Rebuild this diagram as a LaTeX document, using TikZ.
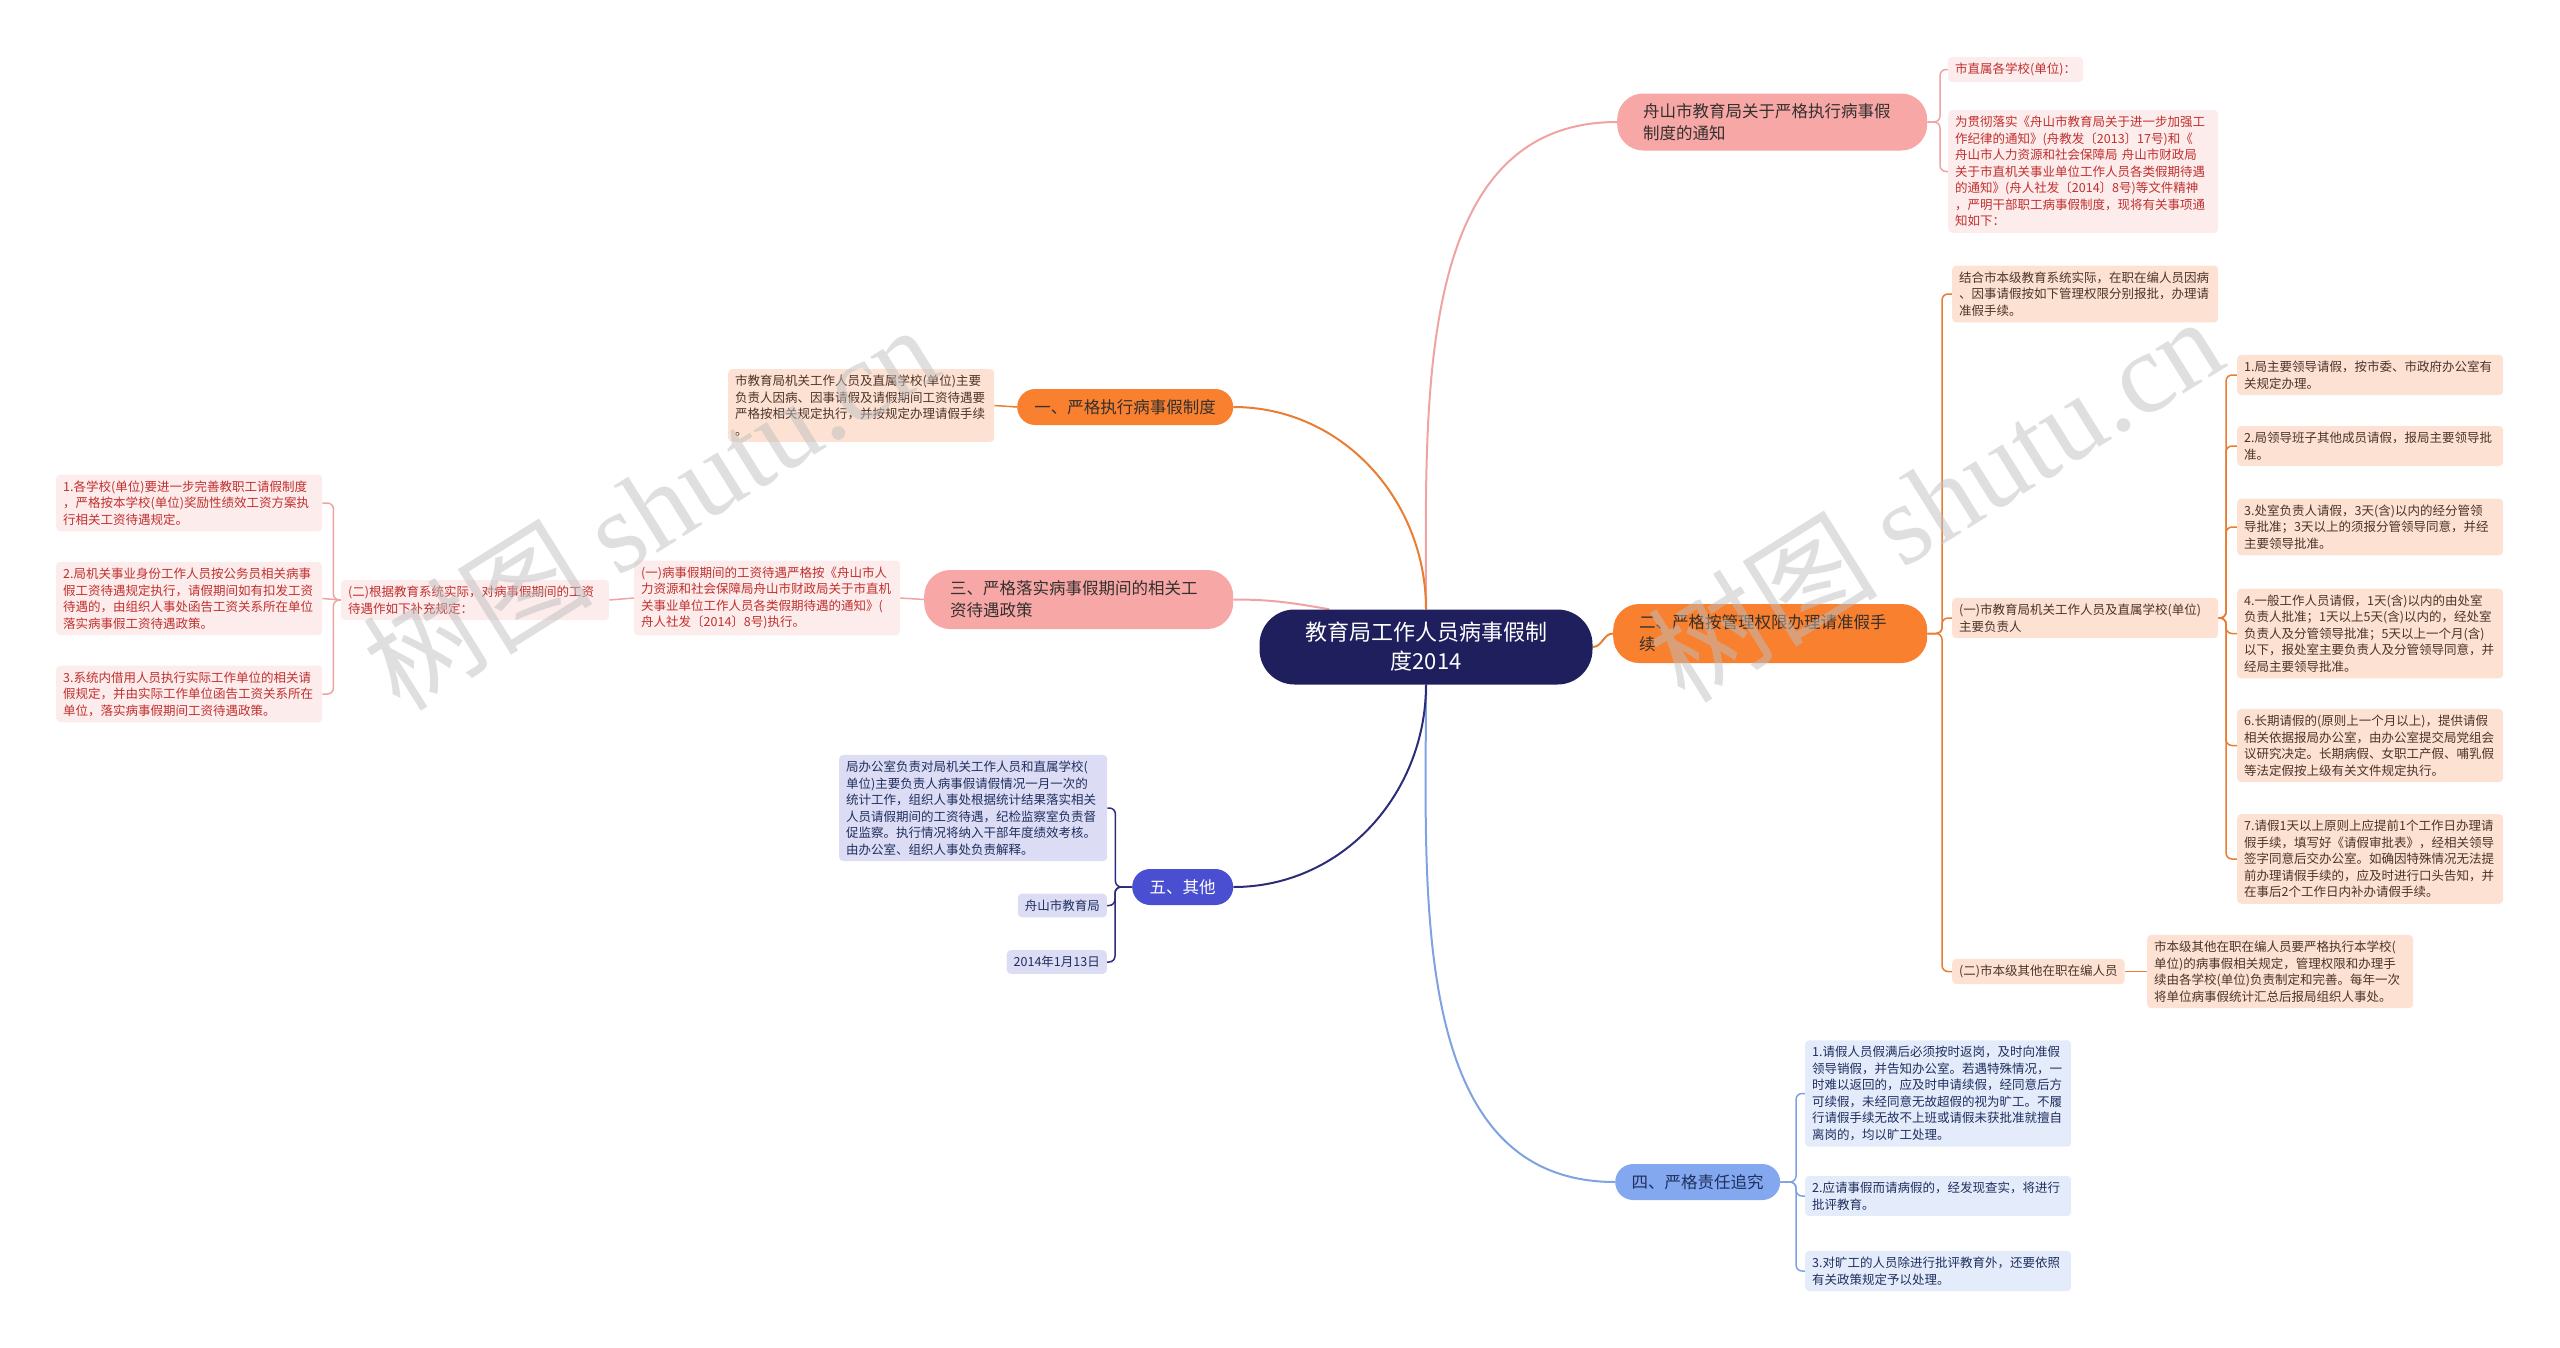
\documentclass[tikz,border=0pt]{standalone}
\usepackage{fontspec}
\setmainfont{Noto Sans CJK SC}
\newfontfamily\marcafont{Liberation Serif}
\usetikzlibrary{backgrounds}
\definecolor{azulescuro}{HTML}{1E1F5C}
\definecolor{rosaforte}{HTML}{F7A8A6}
\definecolor{rosaclaro}{HTML}{FDECEC}
\definecolor{vermelho}{HTML}{C0302E}
\definecolor{laranja}{HTML}{F8802F}
\definecolor{pessego}{HTML}{FDE2D4}
\definecolor{marrom}{HTML}{4A3428}
\definecolor{linhalaranja}{HTML}{E87D33}
\definecolor{linharosa}{HTML}{EFA3A3}
\definecolor{azulramo}{HTML}{84A8F0}
\definecolor{azulclaro}{HTML}{E4ECFB}
\definecolor{azultexto}{HTML}{1F2F5E}
\definecolor{linhaazul}{HTML}{7EA2E2}
\definecolor{roxo}{HTML}{4A4ED0}
\definecolor{lilas}{HTML}{DCDCF5}
\definecolor{linharoxo}{HTML}{2B2D78}
\definecolor{textoescuro}{HTML}{33302E}

\begin{document}
\begin{tikzpicture}[x=1pt, y=1pt,
    every node/.style={inner sep=0pt},
    folha/.style={rounded corners=4pt, inner xsep=7pt, inner ysep=6pt, align=left, anchor=west, font=\fontsize{12.5}{16.5}\selectfont},
    bloco/.style={folha, text width=252pt},
    rosa/.style={fill=rosaclaro, text=vermelho},
    pessegos/.style={fill=pessego, text=marrom},
    celeste/.style={fill=azulclaro, text=azultexto},
    lilases/.style={fill=lilas, text=azultexto},
    galho/.style={anchor=west, font=\fontsize{16.5}{22}\selectfont, text=textoescuro},
    duplo/.style={galho, rounded corners=26pt, inner xsep=26pt, align=left},
    simples/.style={galho, rounded corners=18pt, minimum height=36pt, align=center},
    tronco/.style={line width=2pt},
    fino/.style={line width=1.5pt, rounded corners=6pt},
    marca/.style={rotate=32, text=gray!50, opacity=0.5, font=\fontsize{115}{115}\selectfont}]
        \useasboundingbox (0,0) rectangle (2560,-1347);

        \node[fill=azulescuro, text=white, rounded corners=35pt, minimum width=333pt, minimum height=75pt, align=center, font=\fontsize{22}{29}\selectfont] (raiz) at (1426,-647) {教育局工作人员病事假制\\度2014};

        \node[duplo, fill=rosaforte, text width=258pt, minimum height=57pt] (aviso) at (1617,-122) {舟山市教育局关于严格执行病事假\\制度的通知};
        \node[folha, rosa] (escolas) at (1948,-69.5) {市直属各学校(单位)：};
        \node[bloco, rosa, text width=256pt] (proposito) at (1948,-171.5) {为贯彻落实《舟山市教育局关于进一步加强工\\作纪律的通知》(舟教发〔2013〕17号)和《\\舟山市人力资源和社会保障局 舟山市财政局\\关于市直机关事业单位工作人员各类假期待遇\\的通知》(舟人社发〔2014〕8号)等文件精神\\，严明干部职工病事假制度，现将有关事项通\\知如下：};

        \node[duplo, fill=laranja, text width=262pt, minimum height=59pt] (ramo2) at (1613,-633.5) {二、严格按管理权限办理请准假手\\续};
        \node[bloco, pessegos] (contexto) at (1952,-294) {结合市本级教育系统实际，在职在编人员因病\\、因事请假按如下管理权限分别报批，办理请\\准假手续。};
        \node[bloco, pessegos] (chefes) at (1952,-618) {(一)市教育局机关工作人员及直属学校(单位)\\主要负责人};
        \node[folha, pessegos] (outros) at (1952,-971.5) {(二)市本级其他在职在编人员};
        \node[bloco, pessegos] (item1) at (2237,-375) {1.局主要领导请假，按市委、市政府办公室有\\关规定办理。};
        \node[bloco, pessegos] (item2) at (2237,-446) {2.局领导班子其他成员请假，报局主要领导批\\准。};
        \node[bloco, pessegos] (item3) at (2237,-527) {3.处室负责人请假，3天(含)以内的经分管领\\导批准；3天以上的须报分管领导同意，并经\\主要领导批准。};
        \node[bloco, pessegos] (item4) at (2237,-633.5) {4.一般工作人员请假，1天(含)以内的由处室\\负责人批准；1天以上5天(含)以内的，经处室\\负责人及分管领导批准；5天以上一个月(含)\\以下，报处室主要负责人及分管领导同意，并\\经局主要领导批准。};
        \node[bloco, pessegos] (item6) at (2237,-745.5) {6.长期请假的(原则上一个月以上)，提供请假\\相关依据报局办公室，由办公室提交局党组会\\议研究决定。长期病假、女职工产假、哺乳假\\等法定假按上级有关文件规定执行。};
        \node[bloco, pessegos] (item7) at (2237,-859) {7.请假1天以上原则上应提前1个工作日办理请\\假手续，填写好《请假审批表》，经相关领导\\签字同意后交办公室。如确因特殊情况无法提\\前办理请假手续的，应及时进行口头告知，并\\在事后2个工作日内补办请假手续。};
        \node[bloco, pessegos] (regraoutros) at (2147,-971.5) {市本级其他在职在编人员要严格执行本学校(\\单位)的病事假相关规定，管理权限和办理手\\续由各学校(单位)负责制定和完善。每年一次\\将单位病事假统计汇总后报局组织人事处。};

        \node[simples, fill=azulramo, text=azultexto, minimum width=165pt] (ramo4) at (1615,-1182) {四、严格责任追究};
        \node[bloco, celeste] (resp1) at (1805,-1093.5) {1.请假人员假满后必须按时返岗，及时向准假\\领导销假，并告知办公室。若遇特殊情况，一\\时难以返回的，应及时申请续假，经同意后方\\可续假，未经同意无故超假的视为旷工。不履\\行请假手续无故不上班或请假未获批准就擅自\\离岗的，均以旷工处理。};
        \node[bloco, celeste] (resp2) at (1805,-1196) {2.应请事假而请病假的，经发现查实，将进行\\批评教育。};
        \node[bloco, celeste] (resp3) at (1805,-1271) {3.对旷工的人员除进行批评教育外，还要依照\\有关政策规定予以处理。};

        \node[simples, fill=laranja, minimum width=216pt] (ramo1) at (1017,-407) {一、严格执行病事假制度};
        \node[bloco, pessegos] (regra1) at (728,-405.5) {市教育局机关工作人员及直属学校(单位)主要\\负责人因病、因事请假及请假期间工资待遇要\\严格按相关规定执行，并按规定办理请假手续\\。};

        \node[duplo, fill=rosaforte, text width=257pt, minimum height=59pt] (ramo3) at (924,-599.5) {三、严格落实病事假期间的相关工\\资待遇政策};
        \node[bloco, rosa] (salario1) at (634,-598) {(一)病事假期间的工资待遇严格按《舟山市人\\力资源和社会保障局舟山市财政局关于市直机\\关事业单位工作人员各类假期待遇的通知》(\\舟人社发〔2014〕8号)执行。};
        \node[bloco, rosa, text width=254pt] (salario2) at (341,-600) {(二)根据教育系统实际，对病事假期间的工资\\待遇作如下补充规定：};
        \node[bloco, rosa] (sal1) at (56,-503) {1.各学校(单位)要进一步完善教职工请假制度\\，严格按本学校(单位)奖励性绩效工资方案执\\行相关工资待遇规定。};
        \node[bloco, rosa] (sal2) at (56,-598.5) {2.局机关事业身份工作人员按公务员相关病事\\假工资待遇规定执行，请假期间如有扣发工资\\待遇的，由组织人事处函告工资关系所在单位\\落实病事假工资待遇政策。};
        \node[bloco, rosa] (sal3) at (56,-694) {3.系统内借用人员执行实际工作单位的相关请\\假规定，并由实际工作单位函告工资关系所在\\单位，落实病事假期间工资待遇政策。};

        \node[simples, fill=roxo, text=white, minimum width=101pt] (ramo5) at (1132,-887) {五、其他};
        \node[bloco, lilases, text width=254pt] (estatistica) at (839,-808) {局办公室负责对局机关工作人员和直属学校(\\单位)主要负责人病事假请假情况一月一次的\\统计工作，组织人事处根据统计结果落实相关\\人员请假期间的工资待遇，纪检监察室负责督\\促监察。执行情况将纳入干部年度绩效考核。\\由办公室、组织人事处负责解释。};
        \node[folha, lilases, anchor=east] (assinatura) at (1107,-905.5) {舟山市教育局};
        \node[folha, lilases, anchor=east] (data) at (1107,-962) {2014年1月13日};

        \begin{scope}[on background layer]
        \draw[tronco, linharosa] (raiz.north) to[out=90,in=180] (aviso.west);
        \draw[tronco, linhalaranja] (raiz.north) to[out=90,in=0] (ramo1.east);
        \draw[tronco, linharosa] (ramo3.east) to[out=0,in=170] ([xshift=70pt]raiz.north west);
        \draw[tronco, linhalaranja] (raiz.east) to[out=0,in=180] (ramo2.west);
        \draw[tronco, linhaazul] (raiz.south) to[out=270,in=180] (ramo4.west);
        \draw[tronco, linharoxo] (raiz.south) to[out=270,in=0] (ramo5.east);

        \draw[fino, linharosa] (aviso.east) -| ([xshift=-8pt]escolas.west) -- (escolas.west);
        \draw[fino, linharosa] (aviso.east) -| ([xshift=-8pt]proposito.west) -- (proposito.west);

        \draw[fino, linhalaranja] (ramo2.east) -| ([xshift=-10pt]contexto.west) -- (contexto.west);
        \draw[fino, linhalaranja] (ramo2.east) -| ([xshift=-10pt]chefes.west) -- (chefes.west);
        \draw[fino, linhalaranja] (ramo2.east) -| ([xshift=-10pt]outros.west) -- (outros.west);
        \foreach \i in {1,2,3,4,6,7}
            \draw[fino, linhalaranja] (chefes.east) -| ([xshift=-11pt]item\i.west) -- (item\i.west);
        \draw[fino, linhalaranja] (outros.east) -- (regraoutros.west);

        \foreach \i in {1,2,3}
            \draw[fino, linhaazul] (ramo4.east) -| ([xshift=-9pt]resp\i.west) -- (resp\i.west);

        \draw[fino, linhalaranja] (ramo1.west) -- (regra1.east);

        \draw[fino, linharosa] (ramo3.west) -- (salario1.east);
        \draw[fino, linharosa] (salario1.west) -- (salario2.east);
        \draw[fino, linharosa] (salario2.west) -| ([xshift=11pt]sal1.east) -- (sal1.east);
        \draw[fino, linharosa] (salario2.west) -- (sal2.east);
        \draw[fino, linharosa] (salario2.west) -| ([xshift=11pt]sal3.east) -- (sal3.east);

        \draw[fino, linharoxo] (ramo5.west) -| ([xshift=8pt]estatistica.east) -- (estatistica.east);
        \draw[fino, linharoxo] (ramo5.west) -| ([xshift=8pt]assinatura.east) -- (assinatura.east);
        \draw[fino, linharoxo] (ramo5.west) -| ([xshift=8pt]data.east) -- (data.east);
        \end{scope}

        \node[marca] (marca1) at (650,-506) {树图 {\marcafont shutu.cn}};
        \node[marca] (marca2) at (1935,-498) {树图 {\marcafont shutu.cn}};
\end{tikzpicture}
\end{document}
